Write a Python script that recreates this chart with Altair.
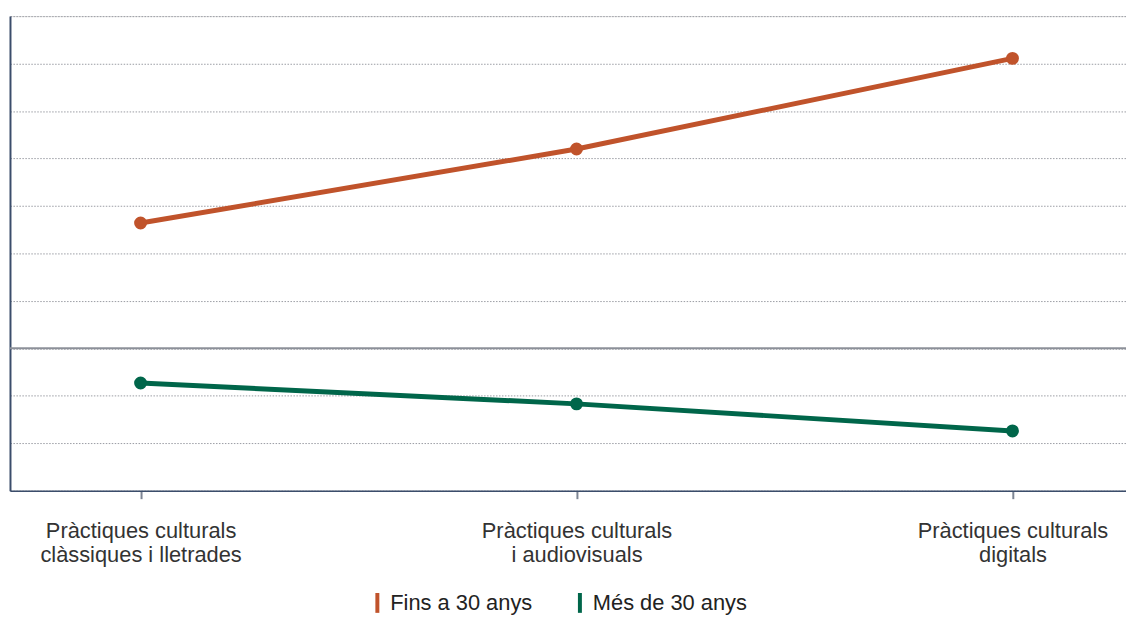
import altair as alt
import pandas as pd

categories = [
    "Pràctiques culturals|clàssiques i lletrades",
    "Pràctiques culturals|i audiovisuals",
    "Pràctiques culturals|digitals",
]
series = ["Fins a 30 anys", "Més de 30 anys"]
young = [2.64, 4.20, 6.11]
older = [-0.73, -1.17, -1.74]
colors = ["#c0532b", "#00664a"]

rows = []
for c, v in zip(categories, young):
    rows.append({"cat": c, "grup": series[0], "val": v})
for c, v in zip(categories, older):
    rows.append({"cat": c, "grup": series[1], "val": v})
df = pd.DataFrame(rows)

FONT = "Liberation Sans"

x = alt.X(
    "cat:N",
    sort=categories,
    title=None,
    scale=alt.Scale(type="point", padding=0.28, align=0.535),
    axis=alt.Axis(
        labelExpr="split(datum.label, '|')",
        labelAngle=0,
        labelFontSize=22,
        labelFont=FONT,
        labelColor="#333333",
        labelLineHeight=24,
        labelPadding=22,
        labelBaseline="top",
        labelLimit=0,
        tickSize=8,
        tickColor="#7d8594",
        tickWidth=2,
        domainColor="#3b4d6b",
        domainWidth=1.5,
        grid=False,
    ),
)
y = alt.Y(
    "val:Q",
    title=None,
    scale=alt.Scale(domain=[-3, 7], nice=False, zero=False),
    axis=alt.Axis(
        values=list(range(-3, 8)),
        labels=False,
        ticks=False,
        domainColor="#3b4d6b",
        domainWidth=2,
        grid=True,
        gridColor="#9a9ca3",
        gridDash=[1.5, 1.5],
        gridWidth=1,
    ),
)
color = alt.Color(
    "grup:N",
    sort=series,
    scale=alt.Scale(domain=series, range=colors),
    legend=alt.Legend(
        title=None,
        orient="none",
        direction="horizontal",
        legendX=359,
        legendY=580,
        labelFontSize=22,
        labelFont=FONT,
        labelColor="#222222",
        symbolType="M-0.2,-1 L0.2,-1 L0.2,1 L-0.2,1 Z",
        symbolSize=400,
        symbolStrokeWidth=0,
        columnPadding=36,
        labelOffset=2,
    ),
)

base = alt.Chart(df)
lines = base.mark_line(strokeWidth=5).encode(x=x, y=y, color=color)
points = base.mark_circle(size=170, opacity=1).encode(
    x=x, y=y,
    color=alt.Color("grup:N", sort=series, scale=alt.Scale(domain=series, range=colors), legend=None),
)
zero = alt.Chart(pd.DataFrame({"z": [0]})).mark_rule(color="#8c9099", strokeWidth=2).encode(
    y=alt.Y("z:Q", scale=alt.Scale(domain=[-3, 7]))
)

chart = (
    alt.layer(zero, lines, points)
    .properties(
        width=1124, height=478,
        padding={"left": 2, "top": 6, "right": 0, "bottom": 124},
        autosize="none",
    )
    .configure_view(stroke=None)
    .configure(font=FONT)
)
chart.save("out.html", embed_options={"renderer": "svg", "actions": False})
